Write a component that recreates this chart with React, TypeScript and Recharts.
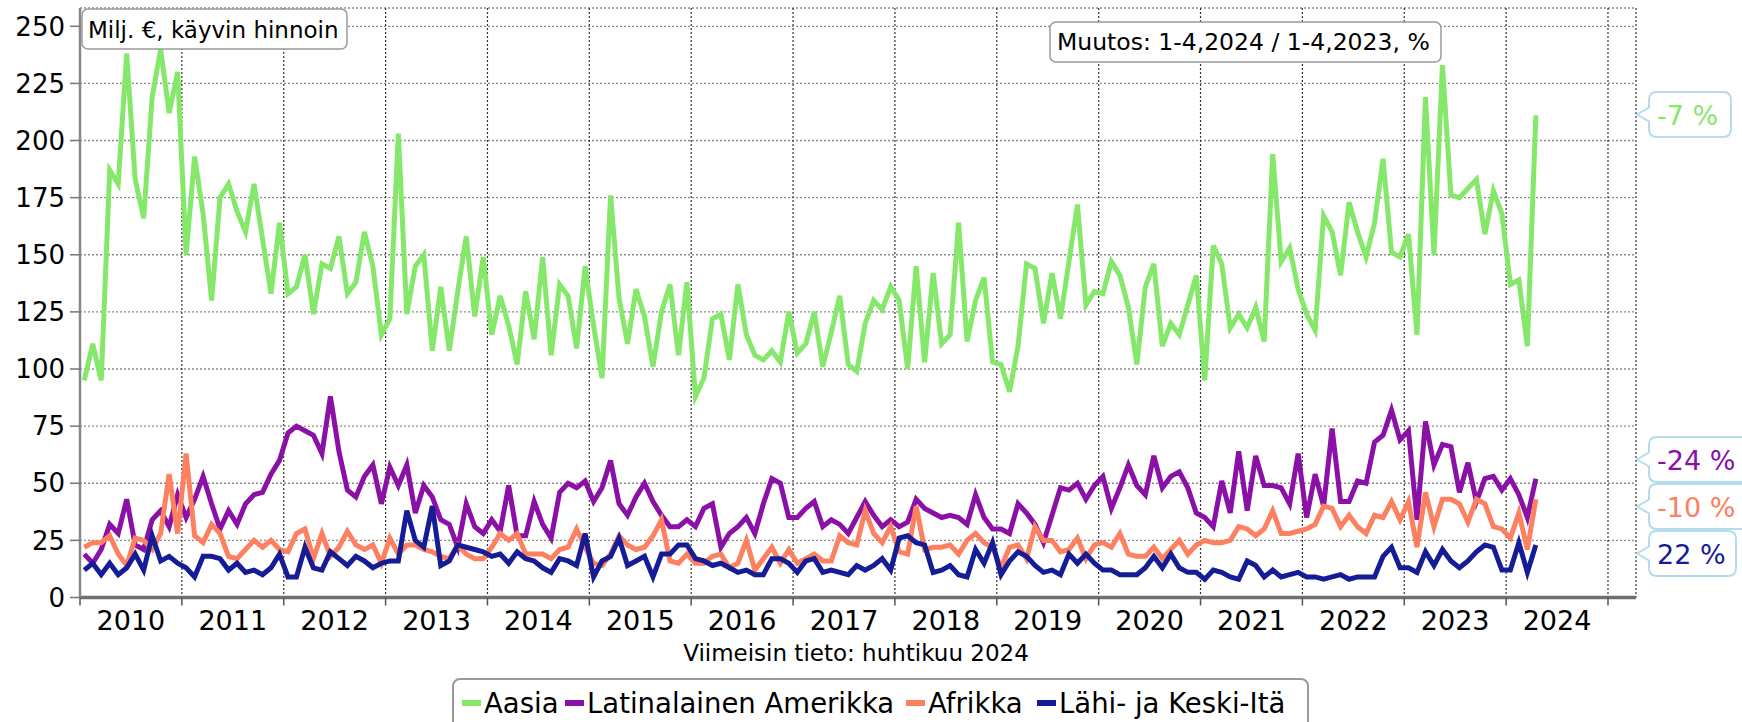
import React from 'react';
import { LineChart, Line, XAxis, YAxis, CartesianGrid } from 'recharts';

const years = [2010, 2011, 2012, 2013, 2014, 2015, 2016, 2017, 2018, 2019, 2020, 2021, 2022, 2023, 2024];

const aasia = [
  95, 111, 95, 187, 181, 238, 183, 166, 219, 240, 212, 230,
  150, 193, 168, 130, 175, 181, 169, 160, 181, 157, 133, 164,
  133, 136, 150, 124, 146, 144, 158, 133, 138, 160, 145, 115,
  122, 203, 124, 145, 150, 108, 136, 108, 134, 158, 123, 149,
  115, 132, 119, 102, 134, 113, 149, 106, 137, 132, 109, 145,
  119, 96, 176, 131, 111, 135, 123, 101, 125, 137, 106, 138,
  88, 96, 122, 124, 104, 137, 115, 106, 104, 108, 103, 125,
  107, 111, 125, 101, 116, 132, 102, 99, 120, 130, 126, 136,
  130, 100, 145, 103, 142, 111, 115, 164, 112, 130, 140, 103,
  102, 90, 110, 146, 144, 120, 142, 122, 147, 172, 128, 134,
  133, 147, 141, 127, 102, 136, 146, 110, 120, 115, 128, 141,
  95, 154, 146, 118, 124, 118, 127, 112, 194, 147, 153, 135,
  124, 117, 167, 160, 141, 173, 160, 149, 164, 192, 151, 149,
  159, 115, 219, 150, 233, 176, 175, 179, 183, 159, 178, 168,
  137, 139, 110, 211,
];

const latinalainen = [
  19, 15, 21, 32, 28, 43, 23, 21, 34, 38, 31, 45,
  35, 43, 53, 41, 30, 38, 32, 41, 45, 46, 54, 60,
  72, 75, 73, 71, 63, 88, 64, 47, 44, 53, 58, 41,
  57, 49, 58, 37, 49, 44, 34, 32, 22, 41, 31, 28,
  34, 29, 49, 27, 27, 42, 32, 26, 46, 50, 48, 51,
  42, 48, 60, 41, 36, 44, 50, 42, 36, 31, 31, 34,
  31, 39, 41, 22, 28, 31, 35, 28, 41, 52, 50, 35,
  35, 39, 42, 31, 34, 32, 28, 35, 42, 36, 31, 34,
  31, 33, 43, 39, 37, 35, 36, 35, 32, 45, 35, 30,
  30, 28, 41, 37, 32, 24, 36, 48, 47, 50, 43, 49,
  53, 39, 48, 58, 49, 45, 62, 48, 53, 55, 48, 37,
  35, 31, 51, 37, 64, 38, 62, 49, 49, 48, 41, 63,
  35, 54, 40, 74, 42, 42, 51, 50, 68, 71, 82, 69,
  73, 34, 77, 58, 67, 66, 46, 59, 42, 52, 53, 47,
  52, 45, 35, 52,
];

const afrikka = [
  22, 24, 24, 27, 19, 14, 26, 25, 21, 28, 54, 28,
  63, 27, 24, 32, 28, 18, 17, 21, 25, 22, 25, 21,
  20, 28, 30, 17, 28, 18, 22, 29, 23, 21, 23, 15,
  26, 19, 23, 23, 21, 20, 18, 17, 23, 19, 17, 17,
  22, 28, 25, 28, 19, 19, 19, 17, 21, 22, 30, 22,
  15, 14, 19, 27, 23, 21, 22, 27, 34, 16, 15, 19,
  15, 15, 18, 19, 13, 15, 25, 12, 17, 22, 15, 21,
  15, 17, 19, 16, 16, 27, 24, 23, 38, 28, 24, 31,
  20, 19, 40, 21, 22, 22, 23, 19, 25, 28, 24, 22,
  13, 22, 23, 17, 31, 25, 25, 20, 21, 26, 17, 23,
  24, 22, 28, 19, 18, 18, 22, 17, 21, 25, 19, 23,
  25, 24, 24, 25, 31, 30, 27, 30, 38, 28, 28, 29,
  30, 32, 40, 39, 31, 36, 31, 28, 36, 35, 42, 34,
  42, 22, 46, 31, 43, 43, 41, 33, 43, 41, 31, 30,
  26, 37, 21, 43,
];

const lahiIta = [
  12, 15, 10, 15, 10, 13, 19, 12, 27, 16, 18, 15,
  13, 9, 18, 18, 17, 12, 15, 11, 12, 10, 13, 19,
  9, 9, 22, 13, 12, 20, 17, 14, 18, 16, 13, 15,
  16, 16, 38, 25, 22, 40, 14, 16, 23, 22, 21, 20,
  18, 19, 15, 20, 17, 16, 13, 11, 17, 16, 14, 28,
  9, 16, 18, 26, 14, 16, 18, 9, 19, 19, 23, 23,
  17, 16, 14, 15, 13, 11, 12, 10, 10, 17, 17, 15,
  11, 16, 17, 11, 12, 11, 10, 14, 12, 14, 17, 12,
  26, 27, 24, 23, 11, 12, 14, 10, 9, 21, 15, 24,
  10, 16, 20, 18, 14, 11, 12, 10, 19, 15, 19, 15,
  12, 12, 10, 10, 10, 13, 18, 13, 19, 13, 11, 11,
  8, 12, 11, 9, 8, 16, 14, 9, 12, 9, 10, 11,
  9, 9, 8, 9, 10, 8, 9, 9, 9, 18, 22, 13,
  13, 11, 20, 14, 21, 16, 13, 16, 20, 23, 22, 12,
  12, 24, 11, 23,
];

const seriesKeys = ['aasia', 'latin', 'afrikka', 'lahi'];
const seriesNames = ['Aasia', 'Latinalainen Amerikka', 'Afrikka', 'Lähi- ja Keski-Itä'];
const seriesColors = ['#86e86b', '#8a10a6', '#fd8060', '#161c96'];
const changeLabels = ['-7 %', '-24 %', '-10 %', '22 %'];
const yTicks = [0, 25, 50, 75, 100, 125, 150, 175, 200, 225, 250];
const xTicks = years.map((_, i) => i * 12).concat([years.length * 12]);

const titleText = 'Milj. €, käyvin hinnoin';
const changeTitle = 'Muutos: 1-4,2024 / 1-4,2023, %';
const footnote = 'Viimeisin tieto: huhtikuu 2024';

const data = aasia.map((v, i) => ({
  t: i + 0.5,
  aasia: v,
  latin: latinalainen[i],
  afrikka: afrikka[i],
  lahi: lahiIta[i],
}));

const FONT = '"DejaVu Sans", Verdana, sans-serif';
const W = 1742;
const H = 722;
const PLOT_LEFT = 80;
const PLOT_RIGHT = 1636;
const X_MAX = 183.3;
const HALF_YEAR_PX = (6 * (PLOT_RIGHT - PLOT_LEFT)) / X_MAX;

// legend layout (page px)
const legendBox = { x: 453, y: 679, w: 855, h: 60 };
const legendItemX = [462, 565, 906, 1037];

const YearTick = (props: any) => {
  const { x, y, payload } = props;
  const idx = Math.round(payload.value / 12);
  if (idx >= years.length) return <g />;
  return (
    <text x={x + HALF_YEAR_PX} y={y} dy="0.71em" textAnchor="middle" fontSize={27} fill="#000" fontFamily={FONT}>
      {years[idx]}
    </text>
  );
};

const calloutTops = [92, 437, 484, 531];
const calloutWidths = [82, 110, 110, 87];

function Callout({ top, width, text, color }: { top: number; width: number; text: string; color: string }) {
  const l = 1649;
  const h = 45;
  const r = 8;
  const mid = top + h / 2;
  const rr = l + width;
  const d = `M ${l + r} ${top} H ${rr - r} Q ${rr} ${top} ${rr} ${top + r} V ${top + h - r} Q ${rr} ${top + h} ${rr - r} ${top + h} H ${l + r} Q ${l} ${top + h} ${l} ${top + h - r} V ${mid + 7} L ${l - 12} ${mid} L ${l} ${mid - 7} V ${top + r} Q ${l} ${top} ${l + r} ${top} Z`;
  return (
    <g>
      <path d={d} fill="#fff" stroke="#b5dcec" strokeWidth={2} />
      <text x={l + 8} y={mid + 10} fontSize={27} fill={color} fontFamily={FONT}>
        {text}
      </text>
    </g>
  );
}

export default function App() {
  return (
    <div style={{ position: 'absolute', left: 0, top: 0, width: W, height: H, background: '#fff', overflow: 'hidden' }}>
      <LineChart
        width={W}
        height={H}
        data={data}
        margin={{ top: 8, right: W - PLOT_RIGHT, left: 0, bottom: 84.5 }}
      >
        <CartesianGrid vertical={false} stroke="#8a8a8a" strokeDasharray="2 2" strokeWidth={1.3} />
        <CartesianGrid horizontal={false} stroke="#333" strokeDasharray="2 2" strokeWidth={1.2} />
        <XAxis
          dataKey="t"
          type="number"
          domain={[0, X_MAX]}
          ticks={xTicks}
          allowDataOverflow
          height={40}
          tickSize={8}
          tickMargin={5}
          interval={0}
          tick={<YearTick />}
          axisLine={{ stroke: '#707070', strokeWidth: 3.5 }}
          tickLine={{ stroke: '#555', strokeWidth: 1.5 }}
        />
        <YAxis
          type="number"
          domain={[0, 258]}
          ticks={yTicks}
          allowDataOverflow
          width={PLOT_LEFT}
          tickSize={10}
          tickMargin={5}
          interval={0}
          tick={{ fontSize: 26, fill: '#000', fontFamily: FONT }}
          axisLine={{ stroke: '#888', strokeWidth: 2.5 }}
          tickLine={{ stroke: '#777', strokeWidth: 1.5 }}
        />
        {seriesKeys.map((k, i) => (
          <Line
            key={k}
            type="linear"
            dataKey={k}
            name={seriesNames[i]}
            stroke={seriesColors[i]}
            strokeWidth={5}
            strokeLinejoin="miter"
            dot={false}
            activeDot={false}
            isAnimationActive={false}
          />
        ))}
      </LineChart>

      <svg width={W} height={H} style={{ position: 'absolute', left: 0, top: 0, pointerEvents: 'none' }}>
        <rect x={82} y={9} width={265} height={40} rx={6} fill="#fff" stroke="#9a9a9a" strokeWidth={1.5} />
        <text x={88} y={37.5} fontSize={23} fill="#000" fontFamily={FONT}>{titleText}</text>
        <rect x={1050} y={22} width={391} height={40} rx={6} fill="#fff" stroke="#9a9a9a" strokeWidth={1.5} />
        <text x={1057} y={50} fontSize={23.5} fill="#000" fontFamily={FONT}>{changeTitle}</text>
        {changeLabels.map((t, i) => (
          <Callout key={i} top={calloutTops[i]} width={calloutWidths[i]} text={t} color={seriesColors[i]} />
        ))}
        <text x={856} y={661} textAnchor="middle" fontSize={23} fill="#000" fontFamily={FONT}>{footnote}</text>

        <rect
          x={legendBox.x}
          y={legendBox.y}
          width={legendBox.w}
          height={legendBox.h}
          rx={7}
          fill="#fff"
          stroke="#9a9a9a"
          strokeWidth={2}
        />
        {seriesNames.map((n, i) => (
          <g key={n}>
            <rect x={legendItemX[i]} y={700} width={19} height={6} fill={seriesColors[i]} />
            <text x={legendItemX[i] + 22} y={713} fontSize={27.5} fill="#000" fontFamily={FONT}>{n}</text>
          </g>
        ))}
      </svg>
    </div>
  );
}
